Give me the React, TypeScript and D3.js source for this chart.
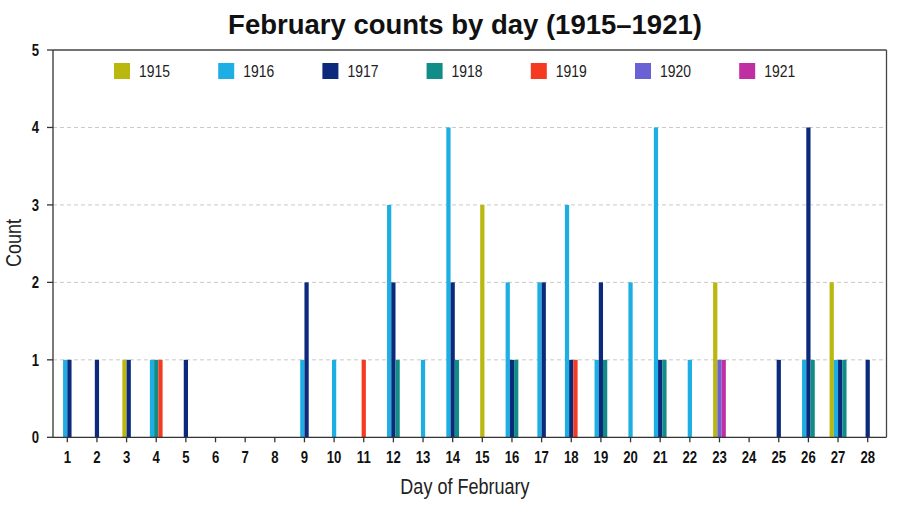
import React from "react";
import * as d3 from "d3";

const days = [1,2,3,4,5,6,7,8,9,10,11,12,13,14,15,16,17,18,19,20,21,22,23,24,25,26,27,28];
const years = ["1915", "1916", "1917", "1918", "1919", "1920", "1921"];
const c1915 = [0,0,1,0,0, 0,0,0,0,0, 0,0,0,0,3, 0,0,0,0,0, 0,0,2,0,0, 0,2,0];
const c1916 = [1,0,0,1,0, 0,0,0,1,1, 0,3,1,4,0, 2,2,3,1,2, 4,1,0,0,0, 1,1,0];
const c1917 = [1,1,1,0,1, 0,0,0,2,0, 0,2,0,2,0, 1,2,1,2,0, 1,0,0,0,1, 4,1,1];
const c1918 = [0,0,0,1,0, 0,0,0,0,0, 0,1,0,1,0, 1,0,0,1,0, 1,0,0,0,0, 1,1,0];
const c1919 = [0,0,0,1,0, 0,0,0,0,0, 1,0,0,0,0, 0,0,1,0,0, 0,0,0,0,0, 0,0,0];
const c1920 = [0,0,0,0,0, 0,0,0,0,0, 0,0,0,0,0, 0,0,0,0,0, 0,0,1,0,0, 0,0,0];
const c1921 = [0,0,0,0,0, 0,0,0,0,0, 0,0,0,0,0, 0,0,0,0,0, 0,0,1,0,0, 0,0,0];
const series = [c1915, c1916, c1917, c1918, c1919, c1920, c1921];
const colors = ["#bab70f", "#1daee3", "#0b2a7c", "#128c86", "#f43b22", "#6a61d4", "#c02fa2"];
const yTicks = [0, 1, 2, 3, 4, 5];

const W = 900, H = 506;
const L = 53, R = 886.5, T = 50, B = 437.3;
const sans = "'Liberation Sans', Arial, Helvetica, sans-serif";
const SX = 0.82;

function NText(props: { x: number; y: number; rot?: number; anchor?: string; size: number; bold?: boolean; fill?: string; dy?: string; children: React.ReactNode }) {
  const { x, y, rot, anchor, size, bold, fill, dy, children } = props;
  return (
    <text
      transform={`translate(${x},${y})${rot ? ` rotate(${rot})` : ""} scale(${SX},1)`}
      textAnchor={anchor || "start"}
      fontFamily={sans}
      fontWeight={bold ? "bold" : "normal"}
      fontSize={size}
      fill={fill || "#111"}
      dy={dy}
    >
      {children}
    </text>
  );
}

export default function App() {
  const x = d3.scaleLinear().domain([1, 28]).range([67.3, 867.7]);
  const y = d3.scaleLinear().domain([0, 5]).range([B, T]);
  const step = x(2) - x(1);
  const bw = step * 0.143;

  const bars: { key: string; x: number; y0: number; y1: number; color: string }[] = [];
  days.forEach((d, di) => {
    const present = years
      .map((yr, yi) => ({ yr, yi, v: series[yi][di] }))
      .filter((o) => o.v > 0);
    const n = present.length;
    present.forEach((o, k) => {
      const cx = x(d) + (k - (n - 1) / 2) * bw;
      bars.push({ key: `${d}-${o.yr}`, x: cx - bw / 2, y0: y(0), y1: y(o.v), color: colors[o.yi] });
    });
  });

  return (
    <svg width={W} height={H} style={{ position: "absolute", left: 0, top: 0, background: "#fff" }}>
      <rect x={0} y={0} width={W} height={H} fill="#fff" />
      <text x={465} y={33.5} textAnchor="middle" fontFamily={sans} fontWeight="bold" fontSize={27.5} fill="#111">
        February counts by day (1915–1921)
      </text>
      {yTicks.filter((t) => t > 0 && t < 5).map((t) => (
        <line key={`g${t}`} x1={L} x2={R} y1={y(t)} y2={y(t)} stroke="#c9c9c9" strokeWidth={1} strokeDasharray="4,3" />
      ))}
      {bars.map((b) => (
        <rect key={b.key} x={b.x} y={b.y1} width={bw} height={b.y0 - b.y1} fill={b.color} />
      ))}
      <line x1={L} x2={R} y1={T} y2={T} stroke="#444" strokeWidth={1.3} />
      <line x1={R} x2={R} y1={T} y2={B} stroke="#444" strokeWidth={1.3} />
      <line x1={L} x2={L} y1={T} y2={B} stroke="#333" strokeWidth={1.3} />
      <line x1={L} x2={R} y1={B} y2={B} stroke="#333" strokeWidth={1.3} />
      {yTicks.map((t) => (
        <g key={`y${t}`}>
          <line x1={L - 6} x2={L} y1={y(t)} y2={y(t)} stroke="#333" strokeWidth={1.3} />
          <NText x={39} y={y(t)} dy="0.36em" anchor="end" size={16} bold>
            {t}
          </NText>
        </g>
      ))}
      {days.map((d) => (
        <g key={`x${d}`}>
          <line x1={x(d)} x2={x(d)} y1={B} y2={B + 5} stroke="#333" strokeWidth={1.3} />
          <NText x={x(d)} y={463.3} anchor="middle" size={16} bold>
            {d}
          </NText>
        </g>
      ))}
      <NText x={465} y={493.5} anchor="middle" size={22} fill="#222">
        Day of February
      </NText>
      <NText x={21} y={243} rot={-90} anchor="middle" size={22} fill="#222">
        Count
      </NText>
      {years.map((yr, i) => (
        <g key={`l${yr}`} transform={`translate(${114 + i * 104.2},63)`}>
          <rect x={0} y={0} width={16} height={16} fill={colors[i]} />
          <NText x={25} y={14} size={17} fill="#222">
            {yr}
          </NText>
        </g>
      ))}
    </svg>
  );
}
